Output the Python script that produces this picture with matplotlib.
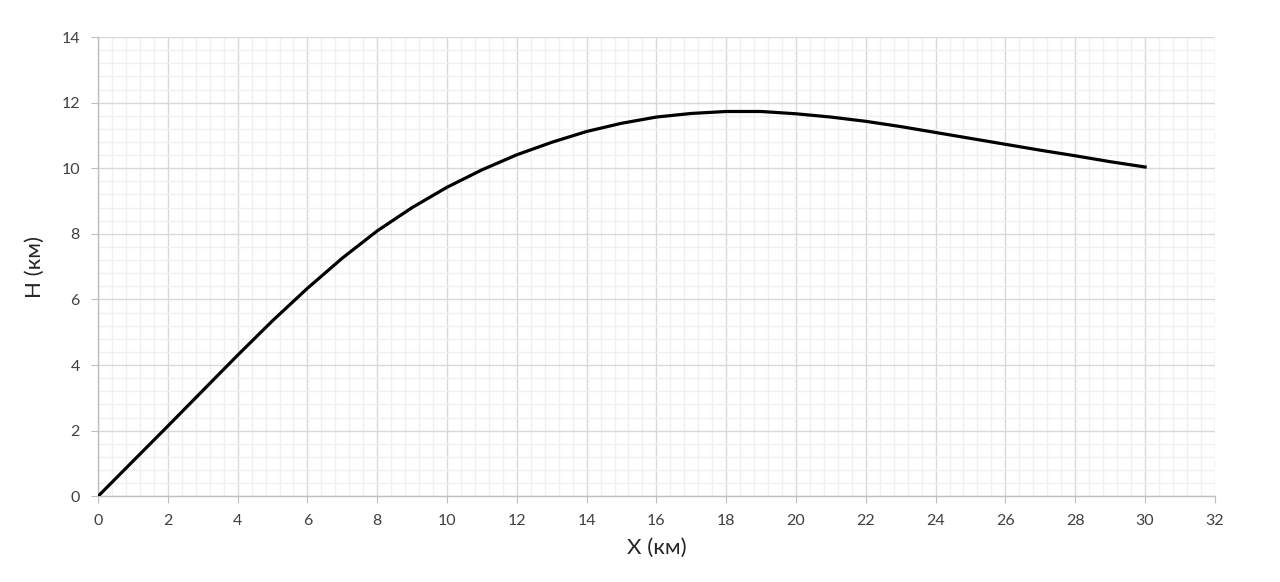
import numpy as np
import matplotlib
matplotlib.use('Agg')
import matplotlib.pyplot as plt
from matplotlib.ticker import MultipleLocator

plt.rcParams['font.family'] = ['Lato', 'DejaVu Sans']

# trajectory (km)
x_km = [0, 1, 2, 3, 4, 5, 6, 7, 8, 9, 10, 11, 12, 13, 14, 15, 16, 17, 18, 19,
        20, 21, 22, 23, 24, 25, 26, 27, 28, 29, 30.05]
h_km = [0, 1.07, 2.14, 3.22, 4.30, 5.35, 6.34, 7.26, 8.09, 8.80, 9.42, 9.95,
        10.41, 10.79, 11.12, 11.37, 11.56, 11.67, 11.73, 11.73, 11.66, 11.56,
        11.43, 11.27, 11.09, 10.91, 10.73, 10.55, 10.38, 10.20, 10.03]

fig = plt.figure(figsize=(12.8, 5.82), dpi=100)
ax = fig.add_axes([0.0766, 0.1473, 0.949 - 0.0766, 0.9364 - 0.1473])

ax.plot(x_km, h_km, color='black', lw=2.3, solid_capstyle='butt',
        solid_joinstyle='round', zorder=3)

ax.set_xlim(0, 32)
ax.set_ylim(0, 14)
ax.xaxis.set_major_locator(MultipleLocator(2))
ax.yaxis.set_major_locator(MultipleLocator(2))
ax.xaxis.set_minor_locator(MultipleLocator(0.4))
ax.yaxis.set_minor_locator(MultipleLocator(0.4))
ax.grid(which='major', color='#d9d9d9', lw=1.0, zorder=1)
ax.grid(which='minor', color='#f0f0f0', lw=1.0, zorder=0)
ax.set_axisbelow(True)

for s in ['top', 'right']:
    ax.spines[s].set_visible(False)
for s in ['left', 'bottom']:
    ax.spines[s].set_color('#bfbfbf')
    ax.spines[s].set_linewidth(1.0)

ax.tick_params(which='major', length=5, color='#bfbfbf', labelsize=11.5,
               labelcolor='#404040')
ax.tick_params(axis='x', which='major', pad=8)
ax.tick_params(axis='y', which='major', pad=8)
ax.tick_params(which='minor', length=0)

ax.set_xlabel('X (км)', fontsize=16, color='#262626', labelpad=7)
ax.set_ylabel('H (км)', fontsize=16, color='#262626', labelpad=12)

fig.savefig('out.png', dpi=100)
